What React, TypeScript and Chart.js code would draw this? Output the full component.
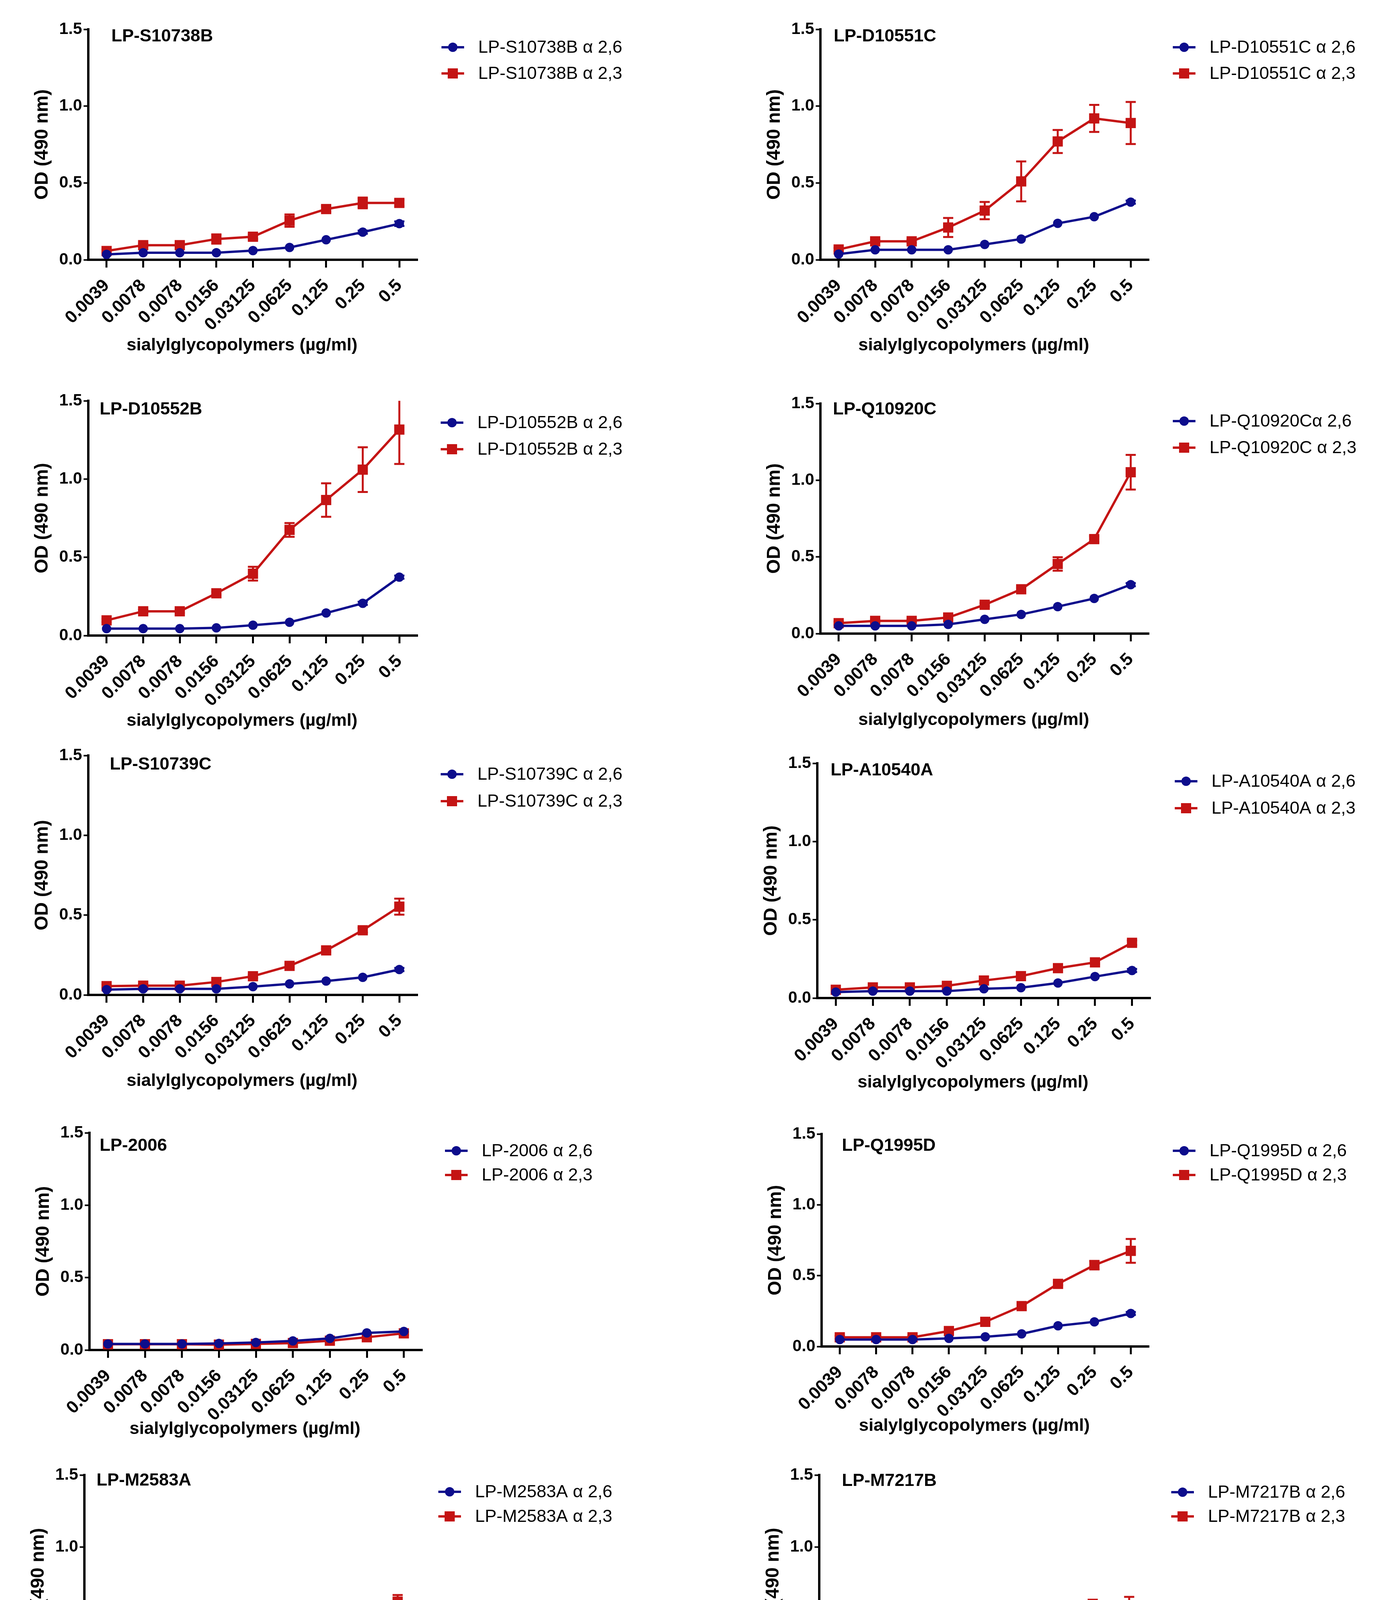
import React, { useEffect, useRef } from 'react';
import { Chart, registerables } from 'chart.js';

Chart.register(...registerables);

const FONT = '"Liberation Sans", Arial, Helvetica, sans-serif';
const BLUE = '#0d0d8c';
const RED = '#c41414';

// ---------- categories / tick labels ----------
const concentrations = ['0.0039', '0.0078', '0.0078', '0.0156', '0.03125', '0.0625', '0.125', '0.25', '0.5'];
const yTickStep = 0.5;
const yMin = 0;
const yMax = 1.5;

const panelTitles = [
  'LP-S10738B', 'LP-D10551C', 'LP-D10552B', 'LP-Q10920C', 'LP-S10739C', 'LP-A10540A',
  'LP-2006', 'LP-Q1995D', 'LP-M2583A', 'LP-M7217B', 'LP-A/Du/Eg/4/2015', 'LP-7271',
];
const legend26 = [
  'LP-S10738B α 2,6', 'LP-D10551C α 2,6', 'LP-D10552B α 2,6', 'LP-Q10920Cα 2,6', 'LP-S10739C α 2,6', 'LP-A10540A α 2,6',
  'LP-2006 α 2,6', 'LP-Q1995D α 2,6', 'LP-M2583A α 2,6', 'LP-M7217B α 2,6', 'LP-A/Du/Eg/4/2015  α 2,6', 'Human LP-7271  α 2,6',
];
const legend23 = [
  'LP-S10738B α 2,3', 'LP-D10551C α 2,3', 'LP-D10552B α 2,3', 'LP-Q10920C α 2,3', 'LP-S10739C α 2,3', 'LP-A10540A α 2,3',
  'LP-2006 α 2,3', 'LP-Q1995D α 2,3', 'LP-M2583A α 2,3', 'LP-M7217B α 2,3', 'LP-A/Du/Eg/4/2015  α 2,3', 'Human LP-7271  α 2,3',
];
const yAxisTitle = 'OD (490 nm)';
const xAxisTitle = 'sialylglycopolymers (µg/ml)';

// ---------- series values (mean) and error (SEM) ----------
const s10738b_a26 = [0.035, 0.046, 0.046, 0.046, 0.06, 0.08, 0.13, 0.18, 0.235];
const s10738b_a26_err = [0, 0, 0, 0, 0, 0, 0, 0.01, 0.015];
const s10738b_a23 = [0.057, 0.095, 0.095, 0.135, 0.15, 0.255, 0.33, 0.37, 0.37];
const s10738b_a23_err = [0.01, 0.01, 0.01, 0.03, 0.015, 0.04, 0.02, 0.035, 0.02];

const d10551c_a26 = [0.037, 0.065, 0.065, 0.065, 0.1, 0.135, 0.237, 0.28, 0.375];
const d10551c_a26_err = [0, 0, 0, 0, 0, 0, 0, 0, 0.01];
const d10551c_a23 = [0.067, 0.12, 0.12, 0.21, 0.32, 0.51, 0.77, 0.92, 0.89];
const d10551c_a23_err = [0.01, 0.01, 0.01, 0.062, 0.056, 0.13, 0.075, 0.088, 0.137];

const d10552b_a26 = [0.044, 0.044, 0.044, 0.049, 0.066, 0.085, 0.144, 0.206, 0.373];
const d10552b_a26_err = [0, 0, 0, 0, 0, 0, 0, 0.01, 0.01];
const d10552b_a23 = [0.097, 0.155, 0.155, 0.27, 0.395, 0.675, 0.866, 1.06, 1.316];
const d10552b_a23_err = [0.01, 0.01, 0.01, 0.01, 0.044, 0.044, 0.107, 0.143, 0.22];

const q10920c_a26 = [0.05, 0.05, 0.05, 0.06, 0.093, 0.125, 0.176, 0.229, 0.319];
const q10920c_a26_err = [0, 0, 0, 0, 0, 0, 0, 0, 0.01];
const q10920c_a23 = [0.068, 0.083, 0.083, 0.105, 0.188, 0.289, 0.454, 0.616, 1.052];
const q10920c_a23_err = [0.01, 0.01, 0.01, 0.01, 0.01, 0.01, 0.044, 0.02, 0.113];

const s10739c_a26 = [0.033, 0.038, 0.038, 0.038, 0.052, 0.069, 0.087, 0.11, 0.159];
const s10739c_a26_err = [0, 0, 0, 0, 0, 0, 0, 0, 0.01];
const s10739c_a23 = [0.055, 0.058, 0.058, 0.081, 0.117, 0.182, 0.279, 0.405, 0.553];
const s10739c_a23_err = [0.01, 0.01, 0.01, 0.01, 0.01, 0.01, 0.01, 0.015, 0.05];

const a10540a_a26 = [0.038, 0.044, 0.044, 0.044, 0.059, 0.066, 0.096, 0.137, 0.176];
const a10540a_a26_err = [0, 0, 0, 0, 0, 0, 0, 0, 0.01];
const a10540a_a23 = [0.053, 0.068, 0.068, 0.078, 0.112, 0.14, 0.191, 0.228, 0.353];
const a10540a_a23_err = [0, 0, 0, 0, 0, 0, 0.01, 0.01, 0.015];

const lp2006_a26 = [0.042, 0.042, 0.042, 0.045, 0.052, 0.063, 0.08, 0.118, 0.128];
const lp2006_a26_err = [0, 0, 0, 0, 0, 0, 0, 0, 0];
const lp2006_a23 = [0.04, 0.04, 0.04, 0.037, 0.042, 0.048, 0.064, 0.088, 0.115];
const lp2006_a23_err = [0, 0, 0, 0, 0, 0, 0, 0.01, 0.01];

const q1995d_a26 = [0.049, 0.049, 0.049, 0.057, 0.068, 0.089, 0.146, 0.174, 0.233];
const q1995d_a26_err = [0, 0, 0, 0, 0, 0, 0, 0, 0.01];
const q1995d_a23 = [0.065, 0.065, 0.065, 0.109, 0.174, 0.285, 0.442, 0.574, 0.675];
const q1995d_a23_err = [0.01, 0.01, 0.01, 0.01, 0.01, 0.01, 0.01, 0.03, 0.084];

const m2583a_a26 = [0.034, 0.041, 0.041, 0.041, 0.053, 0.065, 0.1, 0.124, 0.212];
const m2583a_a26_err = [0, 0, 0, 0, 0, 0, 0, 0, 0.042];
const m2583a_a23 = [0.053, 0.073, 0.073, 0.096, 0.152, 0.236, 0.393, 0.476, 0.622];
const m2583a_a23_err = [0.01, 0.01, 0.01, 0.01, 0.01, 0.03, 0.015, 0.064, 0.046];

const m7217b_a26 = [0.04, 0.043, 0.043, 0.104, 0.08, 0.091, 0.125, 0.139, 0.139];
const m7217b_a26_err = [0, 0, 0, 0.082, 0, 0, 0, 0, 0];
const m7217b_a23 = [0.056, 0.088, 0.088, 0.147, 0.224, 0.339, 0.432, 0.528, 0.592];
const m7217b_a23_err = [0.01, 0.01, 0.01, 0.02, 0.01, 0.05, 0.066, 0.106, 0.062];

const adueg_a26 = [0.045, 0.048, 0.048, 0.055, 0.065, 0.077, 0.11, 0.137, 0.199];
const adueg_a26_err = [0, 0, 0, 0, 0, 0, 0, 0, 0.01];
const adueg_a23 = [0.067, 0.095, 0.095, 0.125, 0.218, 0.3, 0.449, 0.631, 0.783];
const adueg_a23_err = [0.01, 0.01, 0.01, 0.01, 0.015, 0.015, 0.015, 0.015, 0.063];

const lp7271_a26 = [0.052, 0.052, 0.052, 0.058, 0.088, 0.119, 0.192, 0.229, 0.244];
const lp7271_a26_err = [0, 0, 0, 0, 0, 0, 0.01, 0.01, 0.015];
const lp7271_a23 = [0.055, 0.077, 0.077, 0.102, 0.149, 0.251, 0.374, 0.456, 0.5];
const lp7271_a23_err = [0.01, 0.01, 0.01, 0.01, 0.015, 0.025, 0.048, 0.03, 0.02];

// table assembled from the named arrays above
const series26 = [s10738b_a26, d10551c_a26, d10552b_a26, q10920c_a26, s10739c_a26, a10540a_a26, lp2006_a26, q1995d_a26, m2583a_a26, m7217b_a26, adueg_a26, lp7271_a26];
const series26Err = [s10738b_a26_err, d10551c_a26_err, d10552b_a26_err, q10920c_a26_err, s10739c_a26_err, a10540a_a26_err, lp2006_a26_err, q1995d_a26_err, m2583a_a26_err, m7217b_a26_err, adueg_a26_err, lp7271_a26_err];
const series23 = [s10738b_a23, d10551c_a23, d10552b_a23, q10920c_a23, s10739c_a23, a10540a_a23, lp2006_a23, q1995d_a23, m2583a_a23, m7217b_a23, adueg_a23, lp7271_a23];
const series23Err = [s10738b_a23_err, d10551c_a23_err, d10552b_a23_err, q10920c_a23_err, s10739c_a23_err, a10540a_a23_err, lp2006_a23_err, q1995d_a23_err, m2583a_a23_err, m7217b_a23_err, adueg_a23_err, lp7271_a23_err];

// ---------- layout (page pixel positions of each plot area, and decoration offsets) ----------
type Lay = { L: number; R: number; T: number; B: number; tdx: number; tdy: number; lg1: number; lg2: number; lgx: number; xt: number };
const layouts: Lay[] = [
  { L: 226, R: 1069, T: 75, B: 665, tdx: 59, tdy: 19, lg1: 46, lg2: 113, lgx: 155, xt: 220 },
  { L: 2100, R: 2941, T: 75, B: 665, tdx: 34, tdy: 19, lg1: 46, lg2: 113, lgx: 155, xt: 220 },
  { L: 226, R: 1069, T: 1026, B: 1627, tdx: 29, tdy: 23, lg1: 56, lg2: 124, lgx: 153, xt: 219 },
  { L: 2100, R: 2941, T: 1033, B: 1622, tdx: 32, tdy: 16, lg1: 45, lg2: 113, lgx: 155, xt: 222 },
  { L: 226, R: 1069, T: 1934, B: 2547, tdx: 55, tdy: 24, lg1: 48, lg2: 117, lgx: 153, xt: 221 },
  { L: 2092, R: 2945, T: 1954, B: 2555, tdx: 34, tdy: 19, lg1: 46, lg2: 115, lgx: 156, xt: 217 },
  { L: 229, R: 1081, T: 2900, B: 3456, tdx: 26, tdy: 34, lg1: 46, lg2: 108, lgx: 152, xt: 203 },
  { L: 2103, R: 2941, T: 2903, B: 3447, tdx: 52, tdy: 31, lg1: 43, lg2: 105, lgx: 155, xt: 204 },
  { L: 216, R: 1065, T: 3776, B: 4330, tdx: 31, tdy: 15, lg1: 43, lg2: 106, lgx: 151, xt: 211 },
  { L: 2097, R: 2937, T: 3776, B: 4329, tdx: 58, tdy: 16, lg1: 44, lg2: 106, lgx: 155, xt: 203 },
  { L: 216, R: 1065, T: 4632, B: 5227, tdx: 65, tdy: 17, lg1: 49, lg2: 116, lgx: 151, xt: 218 },
  { L: 2102, R: 2935, T: 4632, B: 5227, tdx: 46, tdy: 22, lg1: 49, lg2: 116, lgx: 151, xt: 218 },
];

const Y_AXIS_W = 150;
const X_AXIS_H = 180;
const PAD_TOP = 70;
const EXTRA_BOTTOM = 265;

function drawMarker(ctx: CanvasRenderingContext2D, kind: 'circle' | 'rect', x: number, y: number, color: string) {
  ctx.fillStyle = color;
  ctx.beginPath();
  if (kind === 'circle') {
    ctx.arc(x, y, 12, 0, Math.PI * 2);
  } else {
    ctx.rect(x - 13, y - 13, 26, 26);
  }
  ctx.fill();
}

const decorPlugin = {
  id: 'decor',
  beforeDatasetsDraw(chart: any, _args: any, opts: any) {
    const ctx: CanvasRenderingContext2D = chart.ctx;
    const yScale = chart.scales.y;
    const area = chart.chartArea;
    ctx.save();
    ctx.beginPath();
    ctx.rect(area.left - 40, area.top, area.right - area.left + 80, area.bottom - area.top + 40);
    ctx.clip();
    chart.data.datasets.forEach((ds: any, i: number) => {
      const errs: number[] = opts.errors[i];
      const meta = chart.getDatasetMeta(i);
      ctx.strokeStyle = ds.borderColor;
      ctx.lineWidth = 5;
      meta.data.forEach((pt: any, j: number) => {
        const e = errs[j];
        if (!e) return;
        const v = ds.data[j];
        const yT = yScale.getPixelForValue(v + e);
        const yB = yScale.getPixelForValue(v - e);
        ctx.beginPath();
        ctx.moveTo(pt.x, yT);
        ctx.lineTo(pt.x, yB);
        ctx.moveTo(pt.x - 13, yT);
        ctx.lineTo(pt.x + 13, yT);
        ctx.moveTo(pt.x - 13, yB);
        ctx.lineTo(pt.x + 13, yB);
        ctx.stroke();
      });
    });
    ctx.restore();
  },
  afterDraw(chart: any, _args: any, opts: any) {
    const ctx: CanvasRenderingContext2D = chart.ctx;
    const a = chart.chartArea;
    const lay: Lay = opts.lay;
    ctx.save();
    ctx.fillStyle = '#000';
    // panel title
    ctx.font = `bold 45px ${FONT}`;
    ctx.textAlign = 'left';
    ctx.textBaseline = 'middle';
    ctx.fillText(opts.title, a.left + lay.tdx, a.top + lay.tdy);
    // y-axis title
    ctx.save();
    ctx.translate(a.left - 117, (a.top + a.bottom) / 2);
    ctx.rotate(-Math.PI / 2);
    ctx.textAlign = 'center';
    ctx.font = `bold 48px ${FONT}`;
    ctx.fillText(opts.yTitle, 0, 0);
    ctx.restore();
    // x-axis title
    ctx.textAlign = 'center';
    ctx.font = `bold 45px ${FONT}`;
    ctx.fillText(opts.xTitle, (a.left + a.right) / 2 - 28, a.bottom + lay.xt);
    // legend
    const textX = a.right + lay.lgx;
    const mx = textX - 65;
    const rows = [
      { y: a.top + lay.lg1, color: BLUE, kind: 'circle' as const, text: opts.leg[0] },
      { y: a.top + lay.lg2, color: RED, kind: 'rect' as const, text: opts.leg[1] },
    ];
    rows.forEach((r) => {
      ctx.strokeStyle = r.color;
      ctx.lineWidth = 6;
      ctx.beginPath();
      ctx.moveTo(mx - 29, r.y);
      ctx.lineTo(mx + 29, r.y);
      ctx.stroke();
      drawMarker(ctx, r.kind, mx, r.y, r.color);
      ctx.fillStyle = '#000';
      ctx.font = `45px ${FONT}`;
      ctx.textAlign = 'left';
      ctx.textBaseline = 'middle';
      ctx.fillText(r.text, textX, r.y + 2);
    });
    ctx.restore();
  },
};

function Panel({ idx }: { idx: number }) {
  const ref = useRef<HTMLCanvasElement | null>(null);
  const lay = layouts[idx];
  const col = idx % 2;
  const colX = col === 0 ? 0 : 1790;
  const w = col === 0 ? 1790 : 1791;
  const top = lay.T - PAD_TOP;
  const h = lay.B - lay.T + PAD_TOP + EXTRA_BOTTOM;

  useEffect(() => {
    const canvas = ref.current;
    if (!canvas) return;
    const chart = new Chart(canvas, {
      type: 'line',
      data: {
        labels: concentrations,
        datasets: [
          {
            label: legend26[idx],
            data: series26[idx],
            borderColor: BLUE,
            backgroundColor: BLUE,
            pointBackgroundColor: BLUE,
            pointBorderColor: BLUE,
            borderWidth: 6,
            pointStyle: 'circle',
            pointRadius: 12,
            pointBorderWidth: 0,
            tension: 0,
            clip: false as any,
          },
          {
            label: legend23[idx],
            data: series23[idx],
            borderColor: RED,
            backgroundColor: RED,
            pointBackgroundColor: RED,
            pointBorderColor: RED,
            borderWidth: 6,
            pointStyle: 'rect',
            pointRadius: 18.5,
            pointBorderWidth: 0,
            tension: 0,
            clip: false as any,
          },
        ],
      },
      options: {
        animation: false,
        responsive: false,
        devicePixelRatio: 1,
        events: [],
        layout: {
          padding: {
            left: lay.L - colX - Y_AXIS_W,
            right: colX + w - lay.R,
            top: PAD_TOP,
            bottom: EXTRA_BOTTOM - X_AXIS_H,
          },
        },
        scales: {
          x: {
            type: 'category',
            offset: true,
            grid: {
              display: true,
              drawOnChartArea: false,
              drawTicks: true,
              tickLength: 20,
              tickWidth: 5,
              tickColor: '#000',
              offset: false,
            },
            border: { display: true, color: '#000', width: 6 },
            ticks: {
              autoSkip: false,
              minRotation: 45,
              maxRotation: 45,
              padding: 20,
              color: '#000',
              font: { family: FONT, size: 45, weight: 'bold' },
            },
            afterFit: (s: any) => {
              s.height = X_AXIS_H;
            },
          },
          y: {
            min: yMin,
            max: yMax,
            ticks: {
              stepSize: yTickStep,
              color: '#000',
              padding: 4,
              font: { family: FONT, size: 42, weight: 'bold' },
              callback: (v: any) => Number(v).toFixed(1),
            },
            grid: {
              display: true,
              drawOnChartArea: false,
              drawTicks: true,
              tickLength: 12,
              tickWidth: 4,
              tickColor: '#000',
            },
            border: { display: true, color: '#000', width: 6 },
            afterFit: (s: any) => {
              s.width = Y_AXIS_W;
            },
          },
        },
        plugins: {
          legend: { display: false },
          tooltip: { enabled: false },
          title: { display: false },
          decor: {
            lay,
            title: panelTitles[idx],
            leg: [legend26[idx], legend23[idx]],
            yTitle: yAxisTitle,
            xTitle: xAxisTitle,
            errors: [series26Err[idx], series23Err[idx]],
          },
        } as any,
      },
      plugins: [decorPlugin as any],
    });
    return () => chart.destroy();
  }, [idx]);

  return (
    <canvas
      ref={ref}
      width={w}
      height={h}
      style={{ position: 'absolute', left: colX, top, width: w, height: h, display: 'block' }}
    />
  );
}

export default function App() {
  useEffect(() => {
    document.body.style.margin = '0';
    document.body.style.background = '#fff';
  }, []);
  return (
    <div style={{ position: 'relative', width: 3581, height: 5515, background: '#fff', overflow: 'hidden' }}>
      {layouts.map((_, i) => (
        <Panel key={i} idx={i} />
      ))}
    </div>
  );
}
